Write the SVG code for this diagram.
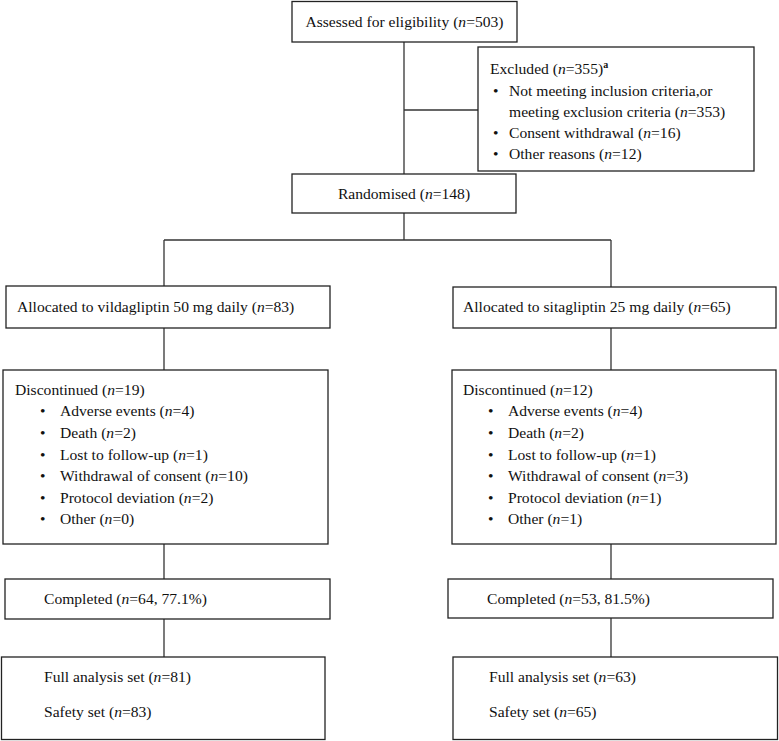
<svg xmlns="http://www.w3.org/2000/svg" width="779" height="741" viewBox="0 0 779 741">
<style>
  .box { fill: #ffffff; stroke: #222222; stroke-width: 1.3; }
  .ln { stroke: #333333; stroke-width: 1.3; fill: none; }
  text { font-family: "Liberation Serif", "Times New Roman", serif; font-size: 15.6px; fill: #111111; }
  .c { text-anchor: middle; }
  .i { font-style: italic; }
  .sup { font-size: 10px; font-weight: bold; }
</style>
<rect width="779" height="741" fill="#ffffff"/>
<g id="connectors">
  <line class="ln" x1="404" y1="42" x2="404" y2="174"/>
  <line class="ln" x1="404" y1="110" x2="478" y2="110"/>
  <line class="ln" x1="404" y1="213" x2="404" y2="240"/>
  <line class="ln" x1="164" y1="240" x2="611" y2="240"/>
  <line class="ln" x1="164" y1="240" x2="164" y2="286"/>
  <line class="ln" x1="611" y1="240" x2="611" y2="287"/>
  <line class="ln" x1="164" y1="328" x2="164" y2="370"/>
  <line class="ln" x1="611" y1="328" x2="611" y2="370"/>
  <line class="ln" x1="164" y1="544" x2="164" y2="579"/>
  <line class="ln" x1="611" y1="544" x2="611" y2="579"/>
  <line class="ln" x1="164" y1="619" x2="164" y2="657"/>
  <line class="ln" x1="611" y1="618" x2="611" y2="657"/>
</g>
<g id="assessed">
  <rect class="box" x="292" y="1.5" width="225" height="40.5"/>
  <text class="c" x="404.5" y="27">Assessed for eligibility (<tspan class="i">n</tspan>=503)</text>
</g>
<g id="excluded">
  <rect class="box" x="478" y="47" width="276" height="124"/>
  <text x="490" y="74">Excluded (<tspan class="i">n</tspan>=355)<tspan class="sup" dy="-6">a</tspan></text>
  <text x="493" y="96">•</text>
  <text x="509" y="96">Not meeting inclusion criteria,or</text>
  <text x="509" y="117">meeting exclusion criteria (<tspan class="i">n</tspan>=353)</text>
  <text x="493" y="138">•</text>
  <text x="509" y="138">Consent withdrawal (<tspan class="i">n</tspan>=16)</text>
  <text x="493" y="159">•</text>
  <text x="509" y="159">Other reasons (<tspan class="i">n</tspan>=12)</text>
</g>
<g id="randomised">
  <rect class="box" x="292" y="174" width="224" height="39"/>
  <text class="c" x="404" y="199">Randomised (<tspan class="i">n</tspan>=148)</text>
</g>
<g id="alloc-vilda">
  <rect class="box" x="6" y="286" width="324" height="42"/>
  <text x="17" y="312">Allocated to vildagliptin 50 mg daily (<tspan class="i">n</tspan>=83)</text>
</g>
<g id="alloc-sita">
  <rect class="box" x="453" y="287" width="323" height="41"/>
  <text x="463" y="312">Allocated to sitagliptin 25 mg daily (<tspan class="i">n</tspan>=65)</text>
</g>
<g id="disc-vilda">
  <rect class="box" x="3" y="370" width="325" height="174"/>
  <text x="15" y="395">Discontinued (<tspan class="i">n</tspan>=19)</text>
  <text x="40" y="416">•</text><text x="60" y="416">Adverse events (<tspan class="i">n</tspan>=4)</text>
  <text x="40" y="438">•</text><text x="60" y="438">Death (<tspan class="i">n</tspan>=2)</text>
  <text x="40" y="460">•</text><text x="60" y="460">Lost to follow-up (<tspan class="i">n</tspan>=1)</text>
  <text x="40" y="481">•</text><text x="60" y="481">Withdrawal of consent (<tspan class="i">n</tspan>=10)</text>
  <text x="40" y="503">•</text><text x="60" y="503">Protocol deviation (<tspan class="i">n</tspan>=2)</text>
  <text x="40" y="524">•</text><text x="60" y="524">Other (<tspan class="i">n</tspan>=0)</text>
</g>
<g id="disc-sita">
  <rect class="box" x="452" y="370" width="324" height="174"/>
  <text x="463" y="395">Discontinued (<tspan class="i">n</tspan>=12)</text>
  <text x="488" y="416">•</text><text x="508" y="416">Adverse events (<tspan class="i">n</tspan>=4)</text>
  <text x="488" y="438">•</text><text x="508" y="438">Death (<tspan class="i">n</tspan>=2)</text>
  <text x="488" y="460">•</text><text x="508" y="460">Lost to follow-up (<tspan class="i">n</tspan>=1)</text>
  <text x="488" y="481">•</text><text x="508" y="481">Withdrawal of consent (<tspan class="i">n</tspan>=3)</text>
  <text x="488" y="503">•</text><text x="508" y="503">Protocol deviation (<tspan class="i">n</tspan>=1)</text>
  <text x="488" y="524">•</text><text x="508" y="524">Other (<tspan class="i">n</tspan>=1)</text>
</g>
<g id="completed-vilda">
  <rect class="box" x="5" y="579" width="325" height="40"/>
  <text x="44" y="604">Completed (<tspan class="i">n</tspan>=64, 77.1%)</text>
</g>
<g id="completed-sita">
  <rect class="box" x="448" y="579" width="325" height="39"/>
  <text x="487" y="604">Completed (<tspan class="i">n</tspan>=53, 81.5%)</text>
</g>
<g id="sets-vilda">
  <rect class="box" x="1.5" y="657" width="323.5" height="82.5"/>
  <text x="44" y="682">Full analysis set (<tspan class="i">n</tspan>=81)</text>
  <text x="44" y="717">Safety set (<tspan class="i">n</tspan>=83)</text>
</g>
<g id="sets-sita">
  <rect class="box" x="453" y="657" width="324.5" height="82.5"/>
  <text x="489" y="682">Full analysis set (<tspan class="i">n</tspan>=63)</text>
  <text x="489" y="717">Safety set (<tspan class="i">n</tspan>=65)</text>
</g>
</svg>
